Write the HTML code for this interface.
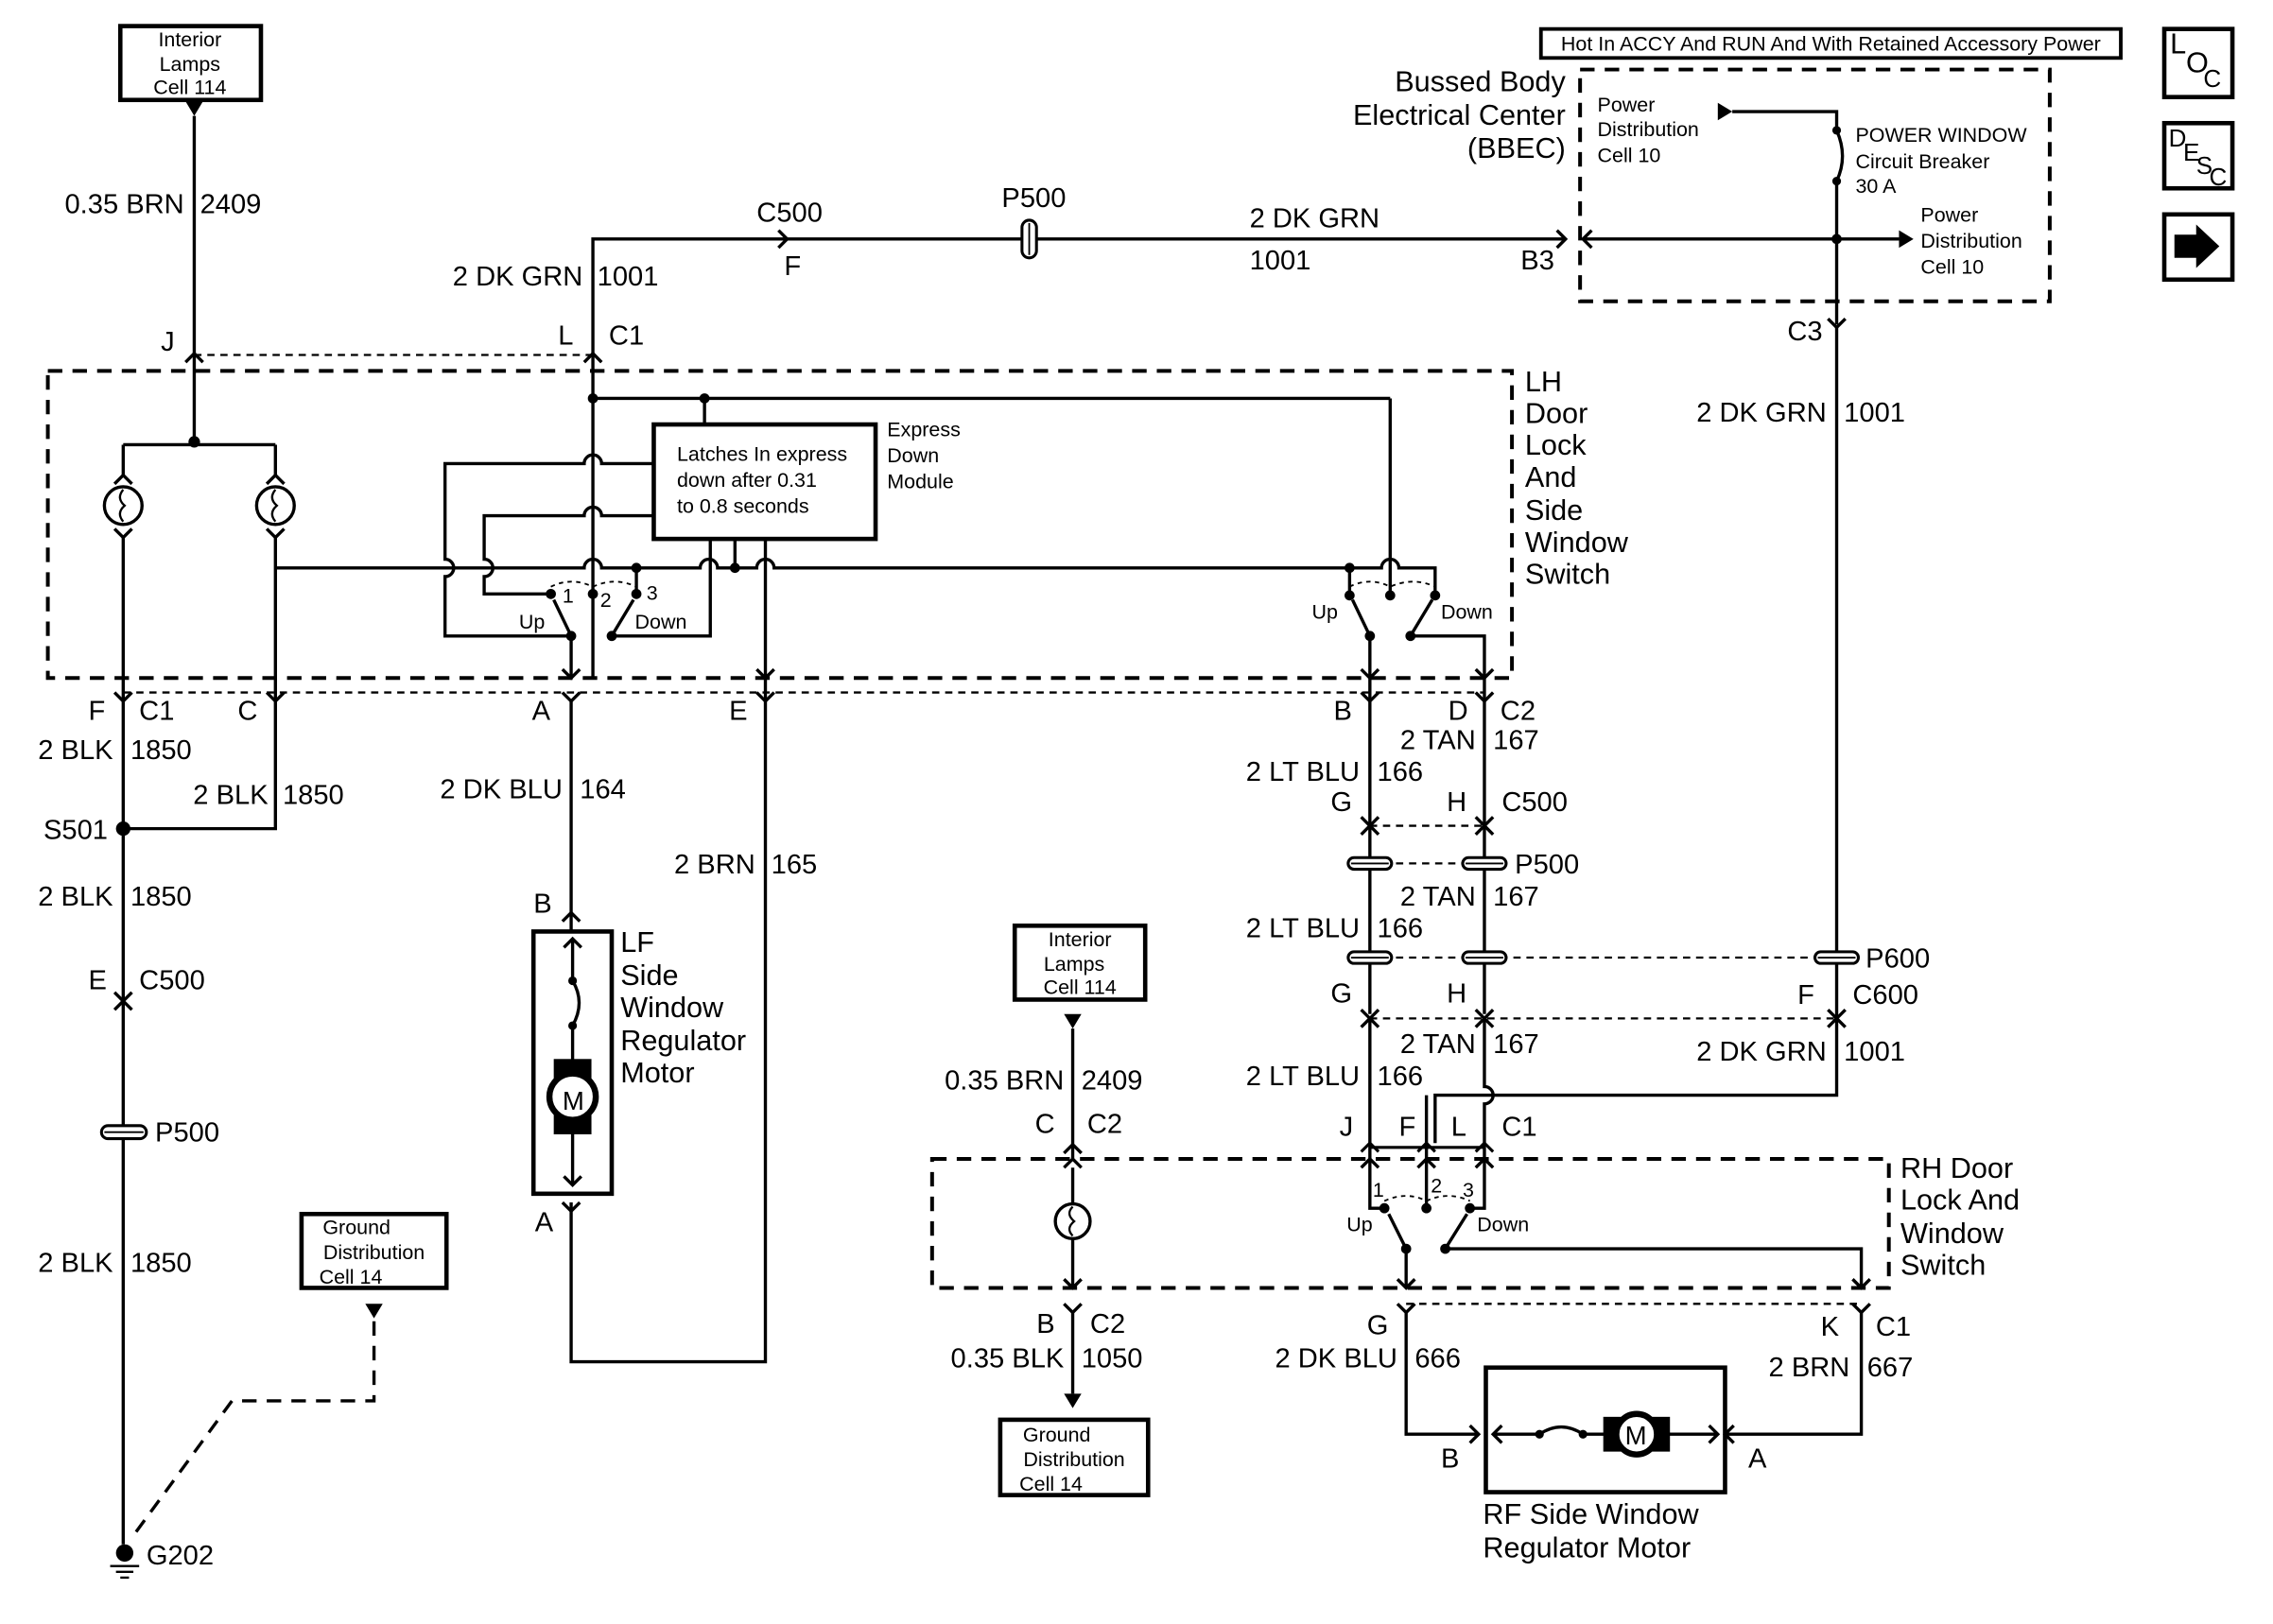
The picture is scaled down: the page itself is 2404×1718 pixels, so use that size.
<!DOCTYPE html>
<html><head><meta charset="utf-8"><style>
html,body{margin:0;padding:0;background:#fff}
svg{display:block}
text{font-family:"Liberation Sans",Arial,sans-serif;fill:#000}
.w{font-size:19px}
.s{font-size:14px}
.b{font-size:20px}
</style></head><body>
<svg width="2404" height="1718" viewBox="0 0 1568 1121" preserveAspectRatio="none" xmlns="http://www.w3.org/2000/svg">
<g fill="none" stroke="#000" stroke-width="2.2">
<!-- top left lamp box -->
<rect x="83" y="18" width="97" height="51" stroke-width="3"/>
<path d="M134 80 V305"/>
<!-- C1 dashed -->
<path d="M134 245 H409" stroke-dasharray="5 4" stroke-width="1.5"/>
<path d="M128 250 L134 244 L140 250 M403 250 L409 244 L415 250"/>
<!-- top wire -->
<path d="M409 245 V165 H1080"/>
<path d="M537 159 L543 165 L537 171"/>
<path d="M1074 159 L1080 165 L1074 171 M1098 159 L1092 165 L1098 171"/>
<!-- BBEC -->
<rect x="1090" y="48" width="324" height="160" stroke-dasharray="10 7" stroke-width="2.6"/>
<rect x="1063" y="20" width="400" height="20" stroke-width="2.5"/>
<path d="M1195 77 H1267 V90 M1267 90 Q1275 108 1267 125 M1267 125 V224"/>
<path d="M1092 165 H1310"/>
<path d="M1261 220 L1267 226 L1273 220"/>
<path d="M1267 226 V756 H990 V789"/>
<!-- LOC boxes -->
<rect x="1493" y="20" width="47" height="47" stroke-width="3"/>
<rect x="1493" y="85" width="47" height="45" stroke-width="3"/>
<rect x="1493" y="148" width="47" height="45" stroke-width="3"/>
<!-- LH box -->
<rect x="33" y="256" width="1010" height="212" stroke-dasharray="10 7" stroke-width="2.6"/>
<path d="M85 307 H190 M85 307 V328 M190 307 V328"/>
<path d="M79 334 L85 328 L91 334 M184 334 L190 328 L196 334"/>
<circle cx="85" cy="349" r="13"/><circle cx="190" cy="349" r="13"/>
<path d="M85 338 Q80 344 86 349 Q80 354 85 360 M190 338 Q185 344 191 349 Q185 354 190 360" stroke-width="1.5"/>
<path d="M79 365 L85 371 L91 365 M184 365 L190 371 L196 365"/>
<path d="M85 371 V1066 M190 371 V572 H85"/>
<!-- bus -->
<path d="M190 392 H403 a6 6 0 0 1 12 0 H483 a6 6 0 0 1 12 0 H522 a6 6 0 0 1 12 0 H953 a6 6 0 0 1 12 0 H990 V411"/>
<path d="M931 392 V411 M959 275 V411 M409 245 V468 M409 275 H959 M486 275 V293"/>
<rect x="451" y="293" width="153" height="79" stroke-width="3"/>
<path d="M451 320 H415 a6 6 0 0 0 -12 0 H307 V386 a6 6 0 0 1 0 12 V439 H394"/>
<path d="M451 356 H415 a6 6 0 0 0 -12 0 H334 V386 a6 6 0 0 1 0 12 V410 H380"/>
<path d="M490 372 V439 H422 M507 372 V392 M528 372 V940 H394 V830 M439 392 V410"/>
<path d="M394 439 V468 M394 439 L382 414 M422 439 L437 414"/>
<path d="M388 462 L394 468 L400 462 M522 462 L528 468 L534 462"/>
<path d="M380 405 Q394 398 409 405 Q424 398 439 405" stroke-dasharray="3 3" stroke-width="1.2"/>
<!-- right switch LH -->
<path d="M945 439 V700 M945 439 L933 414 M973 439 L988 414 M973 439 H1024 V700"/>
<path d="M931 405 Q945 398 959 405 Q975 398 990 405" stroke-dasharray="3 3" stroke-width="1.2"/>
<path d="M939 462 L945 468 L951 462 M1018 462 L1024 468 L1030 462"/>
<!-- lower C1 dashed -->
<path d="M85 478 H1024" stroke-dasharray="5 4" stroke-width="1.5"/>
<path d="M79 478 L85 484 L91 478 M184 478 L190 484 L196 478 M388 478 L394 484 L400 478 M522 478 L528 484 L534 478 M939 478 L945 484 L951 478 M1018 478 L1024 484 L1030 478"/>
<path d="M394 484 V643"/>
<!-- C500 left -->
<path d="M79 685 L85 691 L91 685 M79 697 L85 691 L91 697"/>
<!-- LF motor -->
<rect x="368" y="643" width="54" height="181" stroke-width="3"/>
<path d="M388 636 L394 630 L400 636 M389 654 L395 648 L401 654 M395 648 V677 M395 677 Q404 692 395 708 M395 708 V757 V818 M389 812 L395 818 L401 812 M388 830 L394 836 L400 830"/>
<circle cx="395" cy="757" r="17" fill="#fff"/>
<!-- ground dashed -->
<rect x="208" y="838" width="100" height="51" stroke-width="3"/>
<path d="M258 912 V967 H160 L92 1060" stroke-dasharray="10 7"/>
<path d="M76 1081 H96 M80 1085 H92 M83 1089 H89" stroke-width="1.5"/>
<!-- RH upper connectors -->
<path d="M945 570 H1024 M945 596 H1024 M945 661 H1267 M945 703 H1267" stroke-dasharray="5 4" stroke-width="1.5"/>
<path d="M939 564 L945 570 L951 564 M939 576 L945 570 L951 576 M1018 564 L1024 570 L1030 564 M1018 576 L1024 570 L1030 576"/>
<path d="M939 697 L945 703 L951 697 M939 709 L945 703 L951 709 M1018 697 L1024 703 L1030 697 M1018 709 L1024 703 L1030 709 M1261 697 L1267 703 L1273 697 M1261 709 L1267 703 L1273 709"/>
<path d="M945 703 V834 H955 M1024 703 V750 a6 6 0 0 1 0 12 V834 H1014 M984 756 V834"/>
<path d="M939 795 L945 789 L951 795 M978 795 L984 789 L990 795 M1018 795 L1024 789 L1030 795 M945 792 H1024" stroke-width="2"/>
<!-- RH box -->
<rect x="643" y="800" width="660" height="89" stroke-dasharray="10 7" stroke-width="2.6"/>
<path d="M939 806 L945 800 L951 806 M978 806 L984 800 L990 806 M1018 806 L1024 800 L1030 806"/>
<path d="M970 862 V889 M970 862 L958 838 M997 862 L1012 838 M997 862 H1284 V889"/>
<path d="M955 829 Q970 822 984 829 Q999 822 1014 829" stroke-dasharray="3 3" stroke-width="1.2"/>
<path d="M964 883 L970 889 L976 883 M1278 883 L1284 889 L1290 883"/>
<path d="M970 900 H1284" stroke-dasharray="5 4" stroke-width="1.5"/>
<path d="M964 900 L970 906 L976 900 M1278 900 L1284 906 L1290 900"/>
<path d="M970 906 V990 H1020 M1284 906 V990 H1190"/>
<path d="M1014 984 L1020 990 L1014 996 M1196 984 L1190 990 L1196 996"/>
<rect x="1025" y="944" width="165" height="86" stroke-width="3"/>
<path d="M1036 984 L1030 990 L1036 996 M1030 990 H1062 Q1077 980 1092 990 H1185 M1179 984 L1185 990 L1179 996"/>
<circle cx="1129" cy="990" r="15" fill="#fff"/>
<!-- interior lamps RH -->
<rect x="700" y="639" width="90" height="51" stroke-width="3"/>
<path d="M740 710 V800 M734 796 L740 790 L746 796 M734 806 L740 800 L746 806 M740 806 V831"/>
<circle cx="740" cy="843" r="12"/>
<path d="M740 833 Q735 838 741 843 Q735 848 740 853" stroke-width="1.5"/>
<path d="M740 855 V889 M734 883 L740 889 L746 883 M734 900 L740 906 L746 900 M740 906 V962"/>
<rect x="690" y="980" width="102" height="52" stroke-width="3"/>
<!-- separators of wire labels -->
</g>
<g fill="#000">
<path d="M128 70 H140 L134 80 Z"/>
<path d="M1185 71 L1195 77 L1185 83 Z"/>
<path d="M1310 159 L1320 165 L1310 171 Z"/>
<circle cx="1267" cy="165" r="3.5"/><circle cx="1267" cy="90" r="3"/><circle cx="1267" cy="125" r="3"/>
<path d="M1500 162 H1515 V155 L1531 170 L1515 185 V178 H1500 Z"/>
<circle cx="134" cy="305" r="4"/><circle cx="85" cy="572" r="5"/>
<circle cx="409" cy="275" r="3.5"/><circle cx="486" cy="275" r="3.5"/>
<circle cx="439" cy="392" r="3.5"/><circle cx="507" cy="392" r="3.5"/><circle cx="931" cy="392" r="3.5"/>
<circle cx="380" cy="410" r="3.5"/><circle cx="409" cy="410" r="3.5"/><circle cx="439" cy="410" r="3.5"/>
<circle cx="394" cy="439" r="3.5"/><circle cx="422" cy="439" r="3.5"/>
<circle cx="931" cy="411" r="3.5"/><circle cx="959" cy="411" r="3.5"/><circle cx="990" cy="411" r="3.5"/>
<circle cx="945" cy="439" r="3.5"/><circle cx="973" cy="439" r="3.5"/>
<circle cx="955" cy="834" r="3.5"/><circle cx="984" cy="834" r="3.5"/><circle cx="1014" cy="834" r="3.5"/>
<circle cx="970" cy="862" r="3.5"/><circle cx="997" cy="862" r="3.5"/>
<circle cx="395" cy="677" r="3"/><circle cx="395" cy="708" r="3"/>
<circle cx="1062" cy="990" r="3"/><circle cx="1092" cy="990" r="3"/>
<circle cx="86" cy="1072" r="6"/>
<path d="M252 900 H264 L258 910 Z"/>
<path d="M734 700 H746 L740 710 Z"/>
<path d="M734 962 H746 L740 972 Z"/>
<rect x="382" y="731" width="26" height="52"/>
<rect x="1106" y="978" width="46" height="24"/>
</g>
<circle cx="395" cy="757" r="15" fill="#fff" stroke="#000" stroke-width="2.2"/>
<circle cx="1129" cy="990" r="13" fill="#fff" stroke="#000" stroke-width="2.2"/>
<g fill="#fff" stroke="#000" stroke-width="2">
<rect x="70" y="777" width="31" height="9" rx="4.5"/>
<rect x="930" y="592" width="30" height="8" rx="4"/><rect x="1009" y="592" width="30" height="8" rx="4"/>
<rect x="930" y="657" width="30" height="8" rx="4"/><rect x="1009" y="657" width="30" height="8" rx="4"/><rect x="1252" y="657" width="30" height="8" rx="4"/>
<rect x="705" y="152" width="10" height="26" rx="5"/>
</g>
<g stroke="#000" stroke-width="1.2">
<path d="M72 781.5 H99 M932 596 H958 M1011 596 H1037 M932 661 H958 M1011 661 H1037 M1254 661 H1280 M710 154 V176"/>
</g>
<!-- TEXT -->
<g class="s" text-anchor="middle">
<text x="131" y="32">Interior</text><text x="131" y="49">Lamps</text><text x="131" y="65">Cell 114</text>
<text x="745" y="653">Interior</text><text x="741" y="670">Lamps</text><text x="745" y="686">Cell 114</text>
<text x="246" y="852">Ground</text><text x="258" y="869">Distribution</text><text x="242" y="886">Cell 14</text>
<text x="729" y="995">Ground</text><text x="741" y="1012">Distribution</text><text x="725" y="1029">Cell 14</text>
<text x="1263" y="35">Hot In ACCY And RUN And With Retained Accessory Power</text>
</g>
<g class="s">
<text x="1102" y="77">Power</text><text x="1102" y="94">Distribution</text><text x="1102" y="112">Cell 10</text>
<text x="1280" y="98">POWER WINDOW</text><text x="1280" y="116">Circuit Breaker</text><text x="1280" y="133">30 A</text>
<text x="1325" y="153">Power</text><text x="1325" y="171">Distribution</text><text x="1325" y="189">Cell 10</text>
<text x="467" y="318">Latches In express</text><text x="467" y="336">down after 0.31</text><text x="467" y="354">to 0.8 seconds</text>
<text x="612" y="301">Express</text><text x="612" y="319">Down</text><text x="612" y="337">Module</text>
<text x="388" y="416">1</text><text x="414" y="419">2</text><text x="446" y="414">3</text>
<text x="358" y="434">Up</text><text x="438" y="434">Down</text>
<text x="905" y="427">Up</text><text x="994" y="427">Down</text>
<text x="947" y="826">1</text><text x="987" y="823">2</text><text x="1009" y="826">3</text>
<text x="929" y="850">Up</text><text x="1019" y="850">Down</text>
</g>
<g style="font-size:20px">
<text x="1497" y="37">L</text><text x="1508" y="50">O</text><text x="1520" y="60" style="font-size:17px">C</text>
<text x="1496" y="101" style="font-size:17px">D</text><text x="1506" y="111" style="font-size:17px">E</text><text x="1515" y="120" style="font-size:17px">S</text><text x="1524" y="128" style="font-size:17px">C</text>
</g>
<g class="b" text-anchor="end">
<text x="1080" y="63">Bussed Body</text><text x="1080" y="86">Electrical Center</text><text x="1080" y="109">(BBEC)</text>
</g>
<g class="b">
<text x="1052" y="270">LH</text><text x="1052" y="292">Door</text><text x="1052" y="314">Lock</text><text x="1052" y="336">And</text><text x="1052" y="359">Side</text><text x="1052" y="381">Window</text><text x="1052" y="403">Switch</text>
<text x="428" y="657">LF</text><text x="428" y="680">Side</text><text x="428" y="702">Window</text><text x="428" y="725">Regulator</text><text x="428" y="747">Motor</text>
<text x="1311" y="813">RH Door</text><text x="1311" y="835">Lock And</text><text x="1311" y="858">Window</text><text x="1311" y="880">Switch</text>
<text x="1023" y="1052">RF Side Window</text><text x="1023" y="1075">Regulator Motor</text>
<text x="388" y="766" style="font-size:18px">M</text>
<text x="1121" y="997" style="font-size:18px">M</text>
</g>
<g class="w" text-anchor="end">
<text x="127" y="147">0.35 BRN</text>
<text x="402" y="197">2 DK GRN</text>
<text x="1260" y="291">2 DK GRN</text>
<text x="78" y="524">2 BLK</text><text x="185" y="555">2 BLK</text><text x="78" y="625">2 BLK</text><text x="78" y="878">2 BLK</text>
<text x="388" y="551">2 DK BLU</text><text x="521" y="603">2 BRN</text>
<text x="1018" y="517">2 TAN</text><text x="938" y="539">2 LT BLU</text>
<text x="1018" y="625">2 TAN</text><text x="938" y="647">2 LT BLU</text>
<text x="1018" y="727">2 TAN</text><text x="938" y="749">2 LT BLU</text><text x="1260" y="732">2 DK GRN</text>
<text x="734" y="752">0.35 BRN</text><text x="734" y="944">0.35 BLK</text>
<text x="964" y="944">2 DK BLU</text><text x="1276" y="950">2 BRN</text>
</g>
<g class="w">
<text x="138" y="147">2409</text><text x="412" y="197">1001</text><text x="1272" y="291">1001</text>
<text x="90" y="524">1850</text><text x="195" y="555">1850</text><text x="90" y="625">1850</text><text x="90" y="878">1850</text>
<text x="400" y="551">164</text><text x="532" y="603">165</text>
<text x="1030" y="517">167</text><text x="950" y="539">166</text>
<text x="1030" y="625">167</text><text x="950" y="647">166</text>
<text x="1030" y="727">167</text><text x="950" y="749">166</text><text x="1272" y="732">1001</text>
<text x="746" y="752">2409</text><text x="746" y="944">1050</text>
<text x="976" y="944">666</text><text x="1288" y="950">667</text>
<text x="111" y="242">J</text><text x="385" y="238">L</text><text x="420" y="238">C1</text>
<text x="522" y="153">C500</text><text x="541" y="190">F</text>
<text x="691" y="143">P500</text>
<text x="862" y="157">2 DK GRN</text><text x="862" y="186">1001</text>
<text x="1049" y="186">B3</text><text x="1233" y="235">C3</text>
<text x="61" y="497">F</text><text x="96" y="497">C1</text><text x="164" y="497">C</text>
<text x="367" y="497">A</text><text x="503" y="497">E</text>
<text x="920" y="497">B</text><text x="999" y="497">D</text><text x="1035" y="497">C2</text>
<text x="30" y="579">S501</text>
<text x="61" y="683">E</text><text x="96" y="683">C500</text>
<text x="107" y="788">P500</text>
<text x="368" y="630">B</text><text x="369" y="850">A</text>
<text x="918" y="560">G</text><text x="998" y="560">H</text><text x="1036" y="560">C500</text>
<text x="1045" y="603">P500</text><text x="1287" y="668">P600</text>
<text x="918" y="692">G</text><text x="998" y="692">H</text><text x="1240" y="693">F</text><text x="1278" y="693">C600</text>
<text x="924" y="784">J</text><text x="965" y="784">F</text><text x="1001" y="784">L</text><text x="1036" y="784">C1</text>
<text x="714" y="782">C</text><text x="750" y="782">C2</text>
<text x="715" y="920">B</text><text x="752" y="920">C2</text>
<text x="943" y="921">G</text><text x="1256" y="922">K</text><text x="1294" y="922">C1</text>
<text x="994" y="1013">B</text><text x="1206" y="1013">A</text>
<text x="101" y="1080">G202</text>
</g>
</svg>
</body></html>
